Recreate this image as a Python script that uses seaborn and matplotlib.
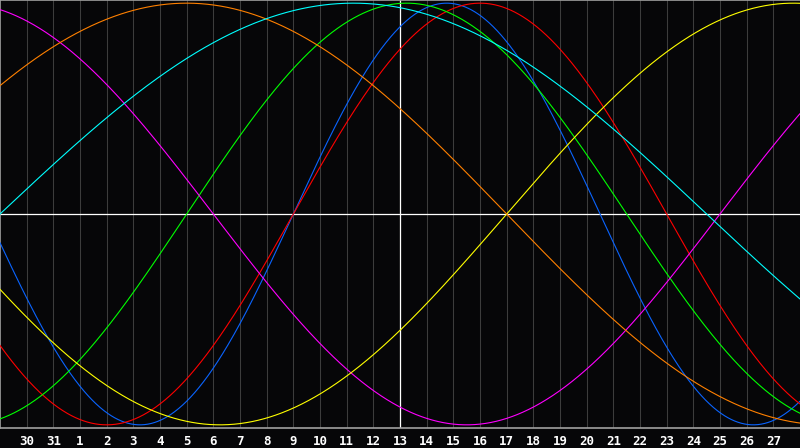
import matplotlib as mpl
mpl.use('Agg')

import numpy as np
import pandas as pd
import seaborn as sns
import matplotlib.pyplot as plt

# cycle lengths (days) and their colours
cycles = [23, 28, 33, 38, 43, 48, 53]
colors = ['#0a64ff', '#ff0000', '#00ff00', '#ff00ff', '#ffff00', '#ff8000', '#00ffff']
days_alive = 5156          # day count at the centre (today) line
today_pos = 15             # grid position of today
day_labels = ['30', '31'] + [str(d) for d in range(1, 28)]
day_pos = list(range(1, len(day_labels) + 1))

# evaluate each cycle across the 30 day window
t = np.linspace(0, 30, 1201)
rows = []
for p in cycles:
    phase = days_alive + t - today_pos
    rows.append(pd.DataFrame({'day': t, 'value': np.sin(2 * np.pi * phase / p), 'cycle': str(p)}))
df = pd.concat(rows, ignore_index=True)

sns.set_style("dark", {"axes.facecolor": "#060608", "figure.facecolor": "#060608"})
fig = plt.figure(figsize=(8, 4.48), dpi=100)
ax = fig.add_axes([0, 20 / 448, 1.0, 428 / 448])

for x in day_pos:
    ax.axvline(x, color='#3c3c3c', lw=0.75, zorder=1)
ax.axhline(0, color='white', lw=0.9, zorder=2)
ax.axvline(today_pos, color='white', lw=0.9, zorder=2)

sns.lineplot(data=df, x='day', y='value', hue='cycle', palette=colors,
             lw=0.8, legend=False, ax=ax, zorder=3)

ax.set_xlim(0, 30)
ax.set_ylim(-1.015, 1.015)
ax.set_xticks(day_pos)
ax.set_xticklabels(day_labels, color='white', fontsize=9, fontweight='bold',
                   family='DejaVu Sans Mono')
ax.set_yticks([])
ax.tick_params(axis='x', length=0, pad=5)
ax.set_xlabel('')
ax.set_ylabel('')
for side in ['top', 'bottom', 'left']:
    ax.spines[side].set_visible(True)
    ax.spines[side].set_color('#a0a0a0')
    ax.spines[side].set_linewidth(1.2)
ax.spines['right'].set_visible(False)

fig.savefig('out.png', dpi=100, facecolor='#060608')
